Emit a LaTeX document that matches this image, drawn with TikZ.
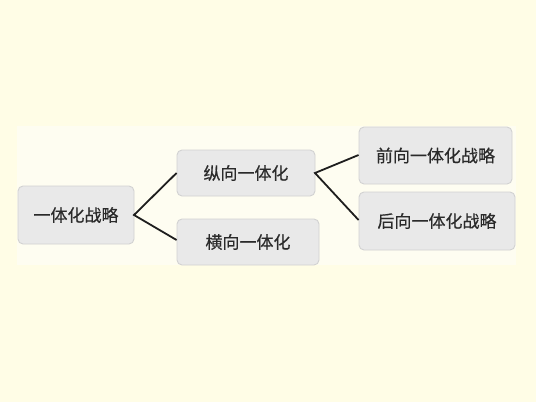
\documentclass[tikz,border=0pt]{standalone}
\usepackage{fontspec}
\newfontfamily\cjk[FakeBold=0.5]{Noto Sans CJK SC}
\definecolor{outerbg}{HTML}{FFFDE6}
\definecolor{innerbg}{HTML}{FEFDF1}
\definecolor{boxfill}{HTML}{E9E9E9}
\definecolor{boxline}{HTML}{D2D2D2}
\definecolor{linkc}{HTML}{1E1E1E}
\definecolor{txt}{HTML}{2A2A2A}
\tikzset{
  px/.style={x=1pt,y=-1pt},
  topic/.style={draw=boxline, fill=boxfill, rounded corners=5pt, line width=0.9pt, font=\cjk\fontsize{17}{20}\selectfont, text=txt, inner sep=0pt},
  link/.style={draw=linkc, line width=1.8pt}
}
\begin{document}
\begin{tikzpicture}[px]
\useasboundingbox (0,0) rectangle (536,402);
\fill[outerbg] (0,0) rectangle (536,402);
\fill[innerbg] (17,126) rectangle (516,265);
\node[topic, minimum width=116pt, minimum height=58pt] (root) at (76,215) {一体化战略};
\node[topic, minimum width=138pt, minimum height=46pt] (zong) at (246,173) {纵向一体化};
\node[topic, minimum width=142pt, minimum height=46pt] (heng) at (248,242) {横向一体化};
\node[topic, minimum width=153pt, minimum height=57pt] (qian) at (435.5,155.5) {前向一体化战略};
\node[topic, minimum width=156pt, minimum height=58pt] (hou) at (437,221) {后向一体化战略};
\coordinate (r0) at (134,215);
\coordinate (z0) at (315,173);
\draw[link, line join=miter] (zong.west |- 0,173) -- (r0) -- (heng.west |- 0,240);
\draw[link, line join=miter] (qian.west |- 0,155) -- (z0) -- (hou.west |- 0,220);
\end{tikzpicture}
\end{document}
